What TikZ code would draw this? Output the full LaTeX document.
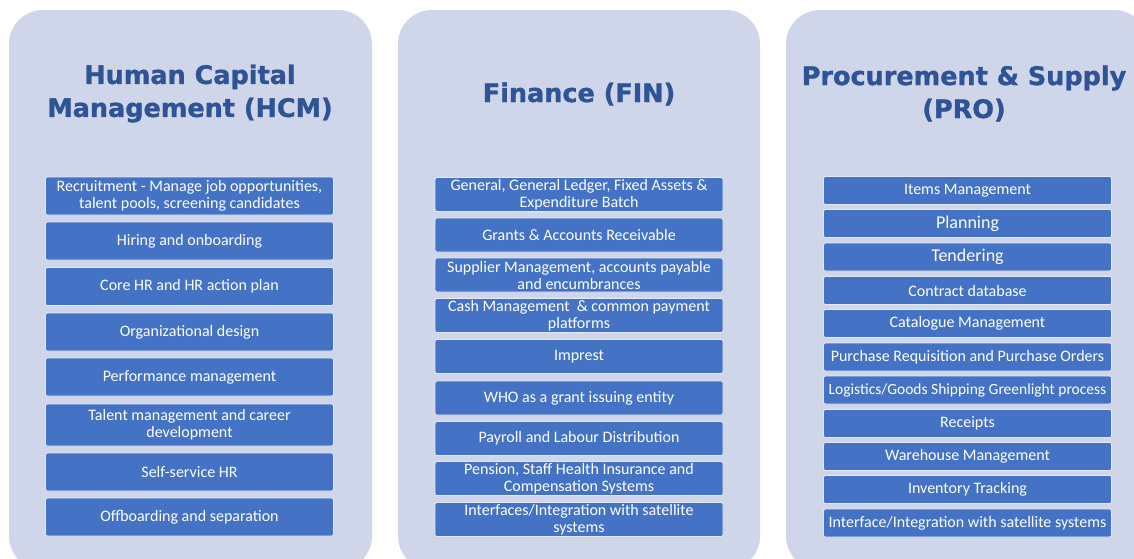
\documentclass[tikz,border=0pt]{standalone}
\usepackage{fontspec}
\newfontfamily\boxfont{Carlito}
\newfontfamily\headfont[FakeBold=1.2]{DejaVu Sans Bold}
\definecolor{panelfill}{HTML}{D0D6EA}
\definecolor{boxblue}{HTML}{4472C4}
\definecolor{headblue}{HTML}{2F5496}
\tikzset{
  panel/.style={fill=panelfill,rounded corners=34pt,inner sep=0pt},
  head/.style={text=headblue,align=center,inner sep=0pt,
    font=\headfont\fontsize{25.5}{33}\selectfont},
  item/.style={fill=boxblue,draw=white!85!boxblue,line width=0.8pt,rounded corners=2pt,
    text=white,align=center,inner sep=0pt,minimum width=288pt,
    font=\boxfont\fontsize{16}{17}\selectfont},
  hcmitem/.style={item,minimum height=38pt},
  finitem/.style={item,minimum height=34pt},
  proitem/.style={item,minimum height=28pt}
}
\begin{document}
\begin{tikzpicture}[x=1pt,y=-1pt]
      \useasboundingbox (0,0) rectangle (1134,558);
      \clip (0,0) rectangle (1134,558);
      \fill[white] (0,0) rectangle (1134,558);

      \node[panel,minimum width=363pt,minimum height=560pt] (hcm) at (190.5,290) {};
      \node[panel,minimum width=362pt,minimum height=560pt] (fin) at (579,290) {};
      \node[panel,minimum width=362pt,minimum height=560pt] (pro) at (967,290) {};

      \node[head] (hcmtitle) at (190,93.5) {Human Capital\\Management (HCM)};
      \node[head] (fintitle) at (579,94) {Finance (FIN)};
      \node[head] (protitle) at (964,93.5) {Procurement \& Supply\\(PRO)};

      \node[hcmitem] (h1) at (189.5,196) {Recruitment - Manage job opportunities,\\talent pools, screening candidates};
      \node[hcmitem] (h2) at (189.5,241) {Hiring and onboarding};
      \node[hcmitem] (h3) at (189.5,286.5) {Core HR and HR action plan};
      \node[hcmitem] (h4) at (189.5,332) {Organizational design};
      \node[hcmitem] (h5) at (189.5,377) {Performance management};
      \node[hcmitem,minimum height=42pt] (h6) at (189.5,425) {Talent management and career\\development};
      \node[hcmitem] (h7) at (189.5,472) {Self-service HR};
      \node[hcmitem] (h8) at (189.5,517) {Offboarding and separation};

      \node[finitem] (f1) at (579,194.5) {General, General Ledger, Fixed Assets \&\\Expenditure Batch};
      \node[finitem] (f2) at (579,235) {Grants \& Accounts Receivable};
      \node[finitem] (f3) at (579,275) {Supplier Management, accounts payable\\and encumbrances};
      \node[finitem] (f4) at (579,315.5) {Cash Management~ \& common payment\\platforms};
      \node[finitem] (f5) at (579,356.5) {Imprest};
      \node[finitem] (f6) at (579,398) {WHO as a grant issuing entity};
      \node[finitem] (f7) at (579,438.5) {Payroll and Labour Distribution};
      \node[finitem] (f8) at (579,478.5) {Pension, Staff Health Insurance and\\Compensation Systems};
      \node[finitem] (f9) at (579,519.5) {Interfaces/Integration with satellite\\systems};

      \node[proitem] (p1) at (967.5,190.5) {Items Management};
      \node[proitem,font=\boxfont\fontsize{18}{18}\selectfont] (p2) at (967.5,223.5) {Planning};
      \node[proitem,font=\boxfont\fontsize{18}{18}\selectfont] (p3) at (967.5,257) {Tendering};
      \node[proitem] (p4) at (967.5,290.5) {Contract database};
      \node[proitem] (p5) at (967.5,323.5) {Catalogue Management};
      \node[proitem] (p6) at (967.5,357) {Purchase Requisition and Purchase Orders};
      \node[proitem,font=\boxfont\fontsize{15.5}{17}\selectfont] (p7) at (967.5,390) {Logistics/Goods Shipping Greenlight process};
      \node[proitem] (p8) at (967.5,423.5) {Receipts};
      \node[proitem] (p9) at (967.5,456.5) {Warehouse Management};
      \node[proitem] (p10) at (967.5,489.5) {Inventory Tracking};
      \node[proitem] (p11) at (967.5,523) {Interface/Integration with satellite systems};
\end{tikzpicture}
\end{document}
